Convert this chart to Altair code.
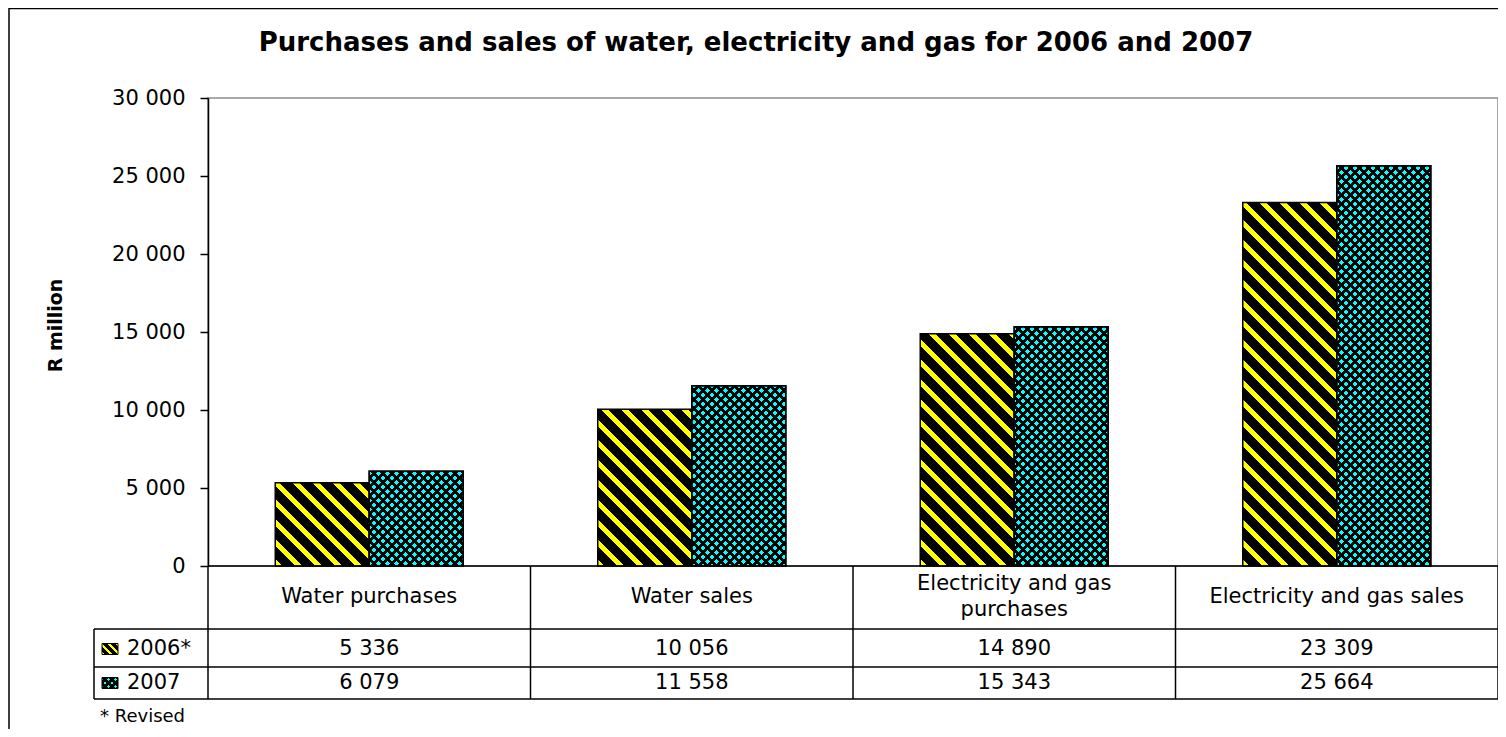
import altair as alt
import pandas as pd

# ---------------- data ----------------
categories = ["Water purchases", "Water sales",
              "Electricity and gas purchases", "Electricity and gas sales"]
header_labels = ["Water purchases", "Water sales",
                 "Electricity and gas\npurchases", "Electricity and gas sales"]
years = ["2006*", "2007"]
values_2006 = [5336, 10056, 14890, 23309]
values_2007 = [6079, 11558, 15343, 25664]
y_ticks = [0, 5000, 10000, 15000, 20000, 25000, 30000]
title_text = "Purchases and sales of water, electricity and gas for 2006 and 2007"
y_title = "R million"
footnote = "* Revised"

rows = []
for c, h, v6, v7 in zip(categories, header_labels, values_2006, values_2007):
    rows.append({"category": c, "header": h, "year": years[0], "value": v6})
    rows.append({"category": c, "header": h, "year": years[1], "value": v7})
df = pd.DataFrame(rows)
one = pd.DataFrame({"k": [0]})
cat_df = pd.DataFrame({"category": categories})
year_df = pd.DataFrame({"year": years})

# ---------------- layout / style ----------------
FONT = "DejaVu Sans"
FS = 21
PW, PH = 1290, 468
Y_MAX = 30000
STEP = PW / len(categories)
BAR_W = 94
PAD_OUT = (STEP / BAR_W - 2) / 2
YELLOW, CYAN, BLACK, CLEAR = "#FFFF00", "#00FFFF", "#000000", "rgba(0,0,0,0)"

ROW_HEAD, ROW_A, ROW_END = 531, 569, 601
LEG_L = -114


def stripe_stops(L, period, on, on_color, off_color):
    stops = []
    pos = 0.0
    while pos < L:
        for s, e, col in ((pos, pos + on, on_color), (pos + on, pos + period, off_color)):
            s2, e2 = max(s, 0.0), min(e, L)
            if e2 > s2:
                stops.append({"offset": round(s2 / L, 5), "color": col})
                stops.append({"offset": round(e2 / L, 5), "color": col})
        pos += period
    return stops


def diag_gradient(W, H, direction, period, on, on_color, off_color):
    L = W + H
    s = L / (W * W + H * H)
    if direction == "down":      # "\" stripes
        x1, y1, x2, y2 = 0, 1, s * W, 1 - s * H
    else:                        # "/" stripes
        x1, y1, x2, y2 = 0, 0, s * W, s * H
    return {"gradient": "linear", "x1": x1, "y1": y1, "x2": x2, "y2": y2,
            "stops": stripe_stops(L, period, on, on_color, off_color)}


x_scale = alt.Scale(domain=categories, paddingInner=0, paddingOuter=0)
x_enc = alt.X("category:N", scale=x_scale, axis=None)
xoff_enc = alt.XOffset("year:N", scale=alt.Scale(domain=years, paddingInner=0,
                                                 paddingOuter=PAD_OUT))
y_enc = alt.Y(
    "value:Q",
    scale=alt.Scale(domain=[0, Y_MAX], nice=False),
    axis=alt.Axis(
        values=y_ticks, grid=False,
        labelExpr="replace(format(datum.value, ','), ',', ' ')",
        labelFont=FONT, labelFontSize=FS, labelColor="black", labelPadding=15,
        tickSize=8, tickColor="black", tickWidth=1.5,
        domainColor="black", domainWidth=1.5,
        title=y_title, titleFont=FONT, titleFontSize=19, titleFontWeight="bold",
        titleColor="black", titleAngle=-90, titleX=-153, titleY=227,
        titleAlign="center", titleBaseline="middle",
    ),
)

layers = []

# outer frame
layers.append(alt.Chart(one).mark_rect(filled=False, stroke="black", strokeWidth=1.5).encode(
    x=alt.value(-199), x2=alt.value(1400), y=alt.value(-89.5), y2=alt.value(760)))

# bars with hatched / dotted fills
base = alt.Chart(df)
for c, v6, v7 in zip(categories, values_2006, values_2007):
    h6 = v6 / Y_MAX * PH
    h7 = v7 / Y_MAX * PH
    f6 = (alt.datum.category == c) & (alt.datum.year == years[0])
    f7 = (alt.datum.category == c) & (alt.datum.year == years[1])
    layers.append(base.transform_filter(f6).mark_bar(
        fill=diag_gradient(BAR_W, h6, "down", 20, 7, YELLOW, BLACK),
        stroke="black", strokeWidth=1.5).encode(x=x_enc, xOffset=xoff_enc, y=y_enc))
    layers.append(base.transform_filter(f7).mark_bar(
        fill=diag_gradient(BAR_W, h7, "down", 9, 5, CYAN, BLACK),
        stroke="black", strokeWidth=1.5).encode(x=x_enc, xOffset=xoff_enc, y=y_enc))
    layers.append(base.transform_filter(f7).mark_bar(
        fill=diag_gradient(BAR_W, h7, "up", 9, 5, CLEAR, BLACK),
        stroke="black", strokeWidth=1.5).encode(x=x_enc, xOffset=xoff_enc, y=y_enc))

# baseline
layers.append(alt.Chart(one).mark_rule(color="black", strokeWidth=1.5).encode(y=alt.datum(0)))

# table grid
for yy in (ROW_HEAD, ROW_A, ROW_END):
    layers.append(alt.Chart(one).mark_rule(color="black", strokeWidth=1.5).encode(
        x=alt.value(LEG_L), x2=alt.value(PW), y=alt.value(yy)))
layers.append(alt.Chart(cat_df).mark_rule(color="black", strokeWidth=1.5).encode(
    x=alt.X("category:N", scale=x_scale, axis=None, bandPosition=0),
    y=alt.value(PH), y2=alt.value(ROW_END)))
layers.append(alt.Chart(one).mark_rule(color="black", strokeWidth=1.5).encode(
    x=alt.value(PW), y=alt.value(PH), y2=alt.value(ROW_END)))
layers.append(alt.Chart(one).mark_rule(color="black", strokeWidth=1.5).encode(
    x=alt.value(LEG_L), y=alt.value(ROW_HEAD), y2=alt.value(ROW_END)))

# header texts (single-line and wrapped)
head = base.transform_filter(alt.datum.year == years[0])
layers.append(head.transform_filter("indexof(datum.header, '\\n') < 0").mark_text(
    font=FONT, fontSize=FS, baseline="middle", color="black").encode(
    x=x_enc, y=alt.value(499), text="header:N"))
layers.append(head.transform_filter("indexof(datum.header, '\\n') >= 0").mark_text(
    font=FONT, fontSize=FS, lineBreak="\n", lineHeight=26, baseline="middle",
    color="black").encode(x=x_enc, y=alt.value(486), text="header:N"))

# value rows
for yr, ypos in ((years[0], 551), (years[1], 585)):
    layers.append(base.transform_filter(alt.datum.year == yr).transform_calculate(
        label="replace(format(datum.value, ','), ',', ' ')").mark_text(
        font=FONT, fontSize=FS, baseline="middle", color="black").encode(
        x=x_enc, y=alt.value(ypos), text="label:N"))

# legend column
for yr, ypos in ((years[0], 551), (years[1], 585)):
    layers.append(alt.Chart(year_df).transform_filter(alt.datum.year == yr).mark_text(
        font=FONT, fontSize=FS, baseline="middle", align="left", color="black").encode(
        x=alt.value(-81), y=alt.value(ypos), text="year:N"))

layers.append(alt.Chart(one).mark_rect(
    fill=diag_gradient(16, 11, "down", 8, 3, YELLOW, BLACK), stroke="black", strokeWidth=1).encode(
    x=alt.value(-106), x2=alt.value(-90), y=alt.value(545.5), y2=alt.value(556.5)))
layers.append(alt.Chart(one).mark_rect(
    fill=diag_gradient(16, 11, "down", 7, 3, CYAN, BLACK), stroke="black", strokeWidth=1).encode(
    x=alt.value(-106), x2=alt.value(-90), y=alt.value(579.5), y2=alt.value(590.5)))
layers.append(alt.Chart(one).mark_rect(
    fill=diag_gradient(16, 11, "up", 7, 3, CLEAR, BLACK)).encode(
    x=alt.value(-106), x2=alt.value(-90), y=alt.value(579.5), y2=alt.value(590.5)))

# footnote
layers.append(alt.Chart(one).mark_text(
    font=FONT, fontSize=18, baseline="middle", align="left", color="black", text=footnote).encode(
    x=alt.value(-108), y=alt.value(618.5)))

chart = alt.layer(*layers).properties(
    width=PW, height=PH,
    autosize=alt.AutoSizeParams(type="none"),
    padding={"left": 200, "top": 90, "right": 0, "bottom": 163},
    title=alt.TitleParams(text=title_text, font=FONT, fontSize=26, fontWeight="bold",
                          anchor="middle", frame="group", dx=-97, dy=69, offset=0,
                          baseline="alphabetic", color="black"),
).configure_view(stroke="#8c8c8c", strokeWidth=1.5)

chart.save("out.html", embed_options={"renderer": "svg", "actions": False})
